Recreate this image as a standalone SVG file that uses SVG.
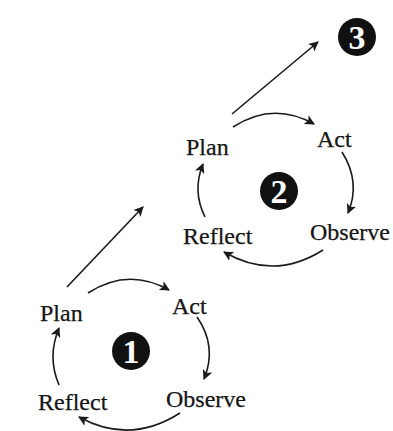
<svg xmlns="http://www.w3.org/2000/svg" width="393" height="431" viewBox="0 0 393 431">
  <style>
    .label { font-family: "Liberation Serif", "Times New Roman", serif; font-size: 24px; fill: #151515; stroke: #151515; stroke-width: 0.25; }
    .num { font-family: "Liberation Serif", "Times New Roman", serif; font-size: 34px; font-weight: bold; fill: #ffffff; text-anchor: middle; }
    .badge { fill: #111111; }
    .conn { fill: none; stroke: #1a1a1a; stroke-width: 1.6; marker-end: url(#head); }
  </style>
  <defs>
    <marker id="head" viewBox="0 0 10 10" refX="9" refY="5" markerWidth="10" markerHeight="10" markerUnits="userSpaceOnUse" orient="auto">
      <path d="M0,0 L10,5 L0,10 L2.5,5 Z" fill="#1a1a1a"/>
    </marker>
  </defs>
  <rect width="393" height="431" fill="#ffffff"/>

  <!-- first cycle -->
  <g id="plan1"><text class="label" x="40" y="321">Plan</text></g>
  <g id="act1"><text class="label" x="172" y="314">Act</text></g>
  <g id="observe1"><text class="label" x="166" y="407">Observe</text></g>
  <g id="reflect1"><text class="label" x="38" y="410">Reflect</text></g>
  <g id="badge1"><circle class="badge" cx="131" cy="351" r="19"/><text class="num" x="131" y="363">1</text></g>

  <!-- second cycle -->
  <g id="plan2"><text class="label" x="186" y="155">Plan</text></g>
  <g id="act2"><text class="label" x="317" y="147">Act</text></g>
  <g id="observe2"><text class="label" x="310" y="240">Observe</text></g>
  <g id="reflect2"><text class="label" x="183" y="244">Reflect</text></g>
  <g id="badge2"><circle class="badge" cx="279" cy="191" r="19"/><text class="num" x="279" y="203">2</text></g>

  <!-- next stage -->
  <g id="badge3"><circle class="badge" cx="357" cy="37" r="19"/><text class="num" x="357" y="49">3</text></g>

  <g id="connectors">
    <path class="conn" d="M88,293 Q128,267 169,290"/>
    <path class="conn" d="M197,317 Q217.5,346.5 204,379"/>
    <path class="conn" d="M180,413 Q130,445 79,417"/>
    <path class="conn" d="M59,385 Q47,357 59,328"/>
    <path class="conn" d="M233,127 Q273,101 314,124"/>
    <path class="conn" d="M342,152 Q361,182 348,213"/>
    <path class="conn" d="M323,250 Q274,281 224,252"/>
    <path class="conn" d="M205,217 Q192,191 203,164"/>
    <path class="conn" d="M67,287 L143,207"/>
    <path class="conn" d="M232,114 L318,42"/>
  </g>
</svg>
